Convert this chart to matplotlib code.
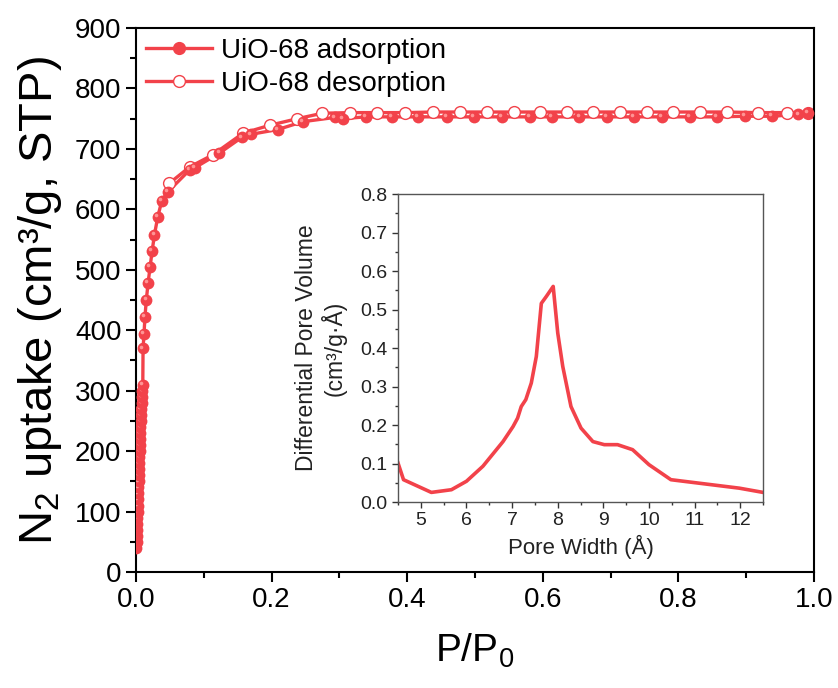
import numpy as np
import matplotlib.pyplot as plt
import matplotlib.transforms as mtransforms

plt.rcParams['font.family'] = ['Liberation Sans', 'DejaVu Sans']
plt.rcParams['mathtext.fontset'] = 'custom'
plt.rcParams['mathtext.rm'] = 'Liberation Sans'

red = '#F2424A'

# N2 isotherm (adsorption)
ads_p = [0.0004, 0.0008, 0.0011, 0.0014, 0.0017, 0.0020, 0.0023, 0.0026, 0.0029,
         0.0032, 0.0035, 0.0038, 0.0041, 0.0044, 0.0047, 0.0050, 0.0053, 0.0056,
         0.0059, 0.0062, 0.0066, 0.0070, 0.0074, 0.0078, 0.0083, 0.0088, 0.0094,
         0.0100, 0.0104, 0.0118, 0.0132, 0.0152, 0.0178, 0.0208, 0.0238, 0.0272,
         0.0320, 0.0380, 0.0470, 0.0790, 0.0870, 0.1230, 0.1560, 0.1690, 0.2090,
         0.2460, 0.2930, 0.3050, 0.3390, 0.3770, 0.4160, 0.4590, 0.4990, 0.5400,
         0.5810, 0.6140, 0.6540, 0.6950, 0.7350, 0.7760, 0.8170, 0.8570, 0.8980,
         0.9380, 0.9770, 0.9910]
ads_v = [40, 50, 60, 70, 80, 90, 100, 110, 120, 130, 140, 150, 160, 170, 180, 190,
         200, 210, 220, 230, 240, 250, 260, 270, 280, 290, 300, 310, 370, 394, 422,
         450, 478, 505, 531, 558, 587, 614, 629, 665, 669, 693, 719, 724, 732, 745,
         752, 750, 753, 753, 753, 753, 753, 753, 753, 753, 753, 753, 753, 753, 753,
         753, 754, 754, 757, 760]

# desorption
des_p = [0.9910, 0.9600, 0.9170, 0.8720, 0.8320, 0.7920, 0.7540, 0.7140, 0.6740,
         0.6360, 0.5960, 0.5580, 0.5180, 0.4780, 0.4380, 0.3970, 0.3560, 0.3160,
         0.2750, 0.2380, 0.1970, 0.1580, 0.1130, 0.0790, 0.0490]
des_v = [760, 760, 760, 761, 761, 761, 761, 761, 761, 761, 761, 761, 761, 761, 761,
         760, 760, 760, 759, 750, 739, 726, 690, 670, 643]

# pore size distribution (inset)
pore_w = [4.50, 4.62, 5.23, 5.67, 6.00, 6.36, 6.80, 7.02, 7.12, 7.20, 7.30, 7.42,
          7.53, 7.64, 7.75, 7.90, 8.00, 8.11, 8.29, 8.51, 8.77, 9.02, 9.31, 9.64,
          10.00, 10.48, 11.98, 12.50]
pore_v = [0.101, 0.058, 0.025, 0.032, 0.054, 0.093, 0.157, 0.196, 0.218, 0.248,
          0.266, 0.309, 0.378, 0.516, 0.534, 0.560, 0.439, 0.352, 0.248, 0.192,
          0.157, 0.149, 0.149, 0.136, 0.097, 0.058, 0.036, 0.025]

fig = plt.figure(figsize=(8.38, 6.88), dpi=100)
ax = fig.add_axes([0.1623, 0.1686, 0.809, 0.7907])

ax.plot(ads_p, ads_v, '-', color=red, lw=2.4, zorder=2)
ax.plot(des_p, des_v, '-o', color=red, lw=2.4, ms=8.5, mfc='white', mec=red,
        mew=1.0, zorder=2)
# filled balls one by one, each with a small highlight, so later ones cover earlier ones
hl = ax.transData + mtransforms.ScaledTranslation(-1.3 / 72, 1.3 / 72, fig.dpi_scale_trans)
for i, (p, v) in enumerate(zip(ads_p, ads_v)):
    ax.plot(p, v, 'o', color=red, ms=8.5, mew=0, zorder=3 + 2 * i / 1000)
    ax.plot(p, v, 'o', color='#FF9494', ms=2.6, mew=0, transform=hl,
            zorder=3 + (2 * i + 1) / 1000)

# legend handles
ax.plot([], [], '-o', color=red, lw=2.4, ms=8.5, label='UiO-68 adsorption')
ax.plot([], [], '-o', color=red, lw=2.4, ms=8.5, mfc='white', mec=red, mew=1.0,
        label='UiO-68 desorption')

ax.set_xlim(0, 1.0)
ax.set_ylim(0, 900)
ax.set_xticks(np.arange(0, 1.01, 0.2))
ax.set_xticks(np.arange(0.1, 1.0, 0.2), minor=True)
ax.set_yticks(np.arange(0, 901, 100))
ax.set_yticks(np.arange(50, 900, 100), minor=True)
ax.xaxis.set_major_formatter(plt.FuncFormatter(lambda v, p: f'{v:.1f}'))
ax.tick_params(which='major', direction='out', length=7, width=1.5, labelsize=20)
ax.tick_params(which='minor', direction='out', length=4, width=1.5)
for s in ax.spines.values():
    s.set_linewidth(1.5)
ax.set_xlabel('P/P$_0$', fontsize=28, labelpad=14)
ax.set_ylabel('N$_2$ uptake (cm³/g, STP)', fontsize=34, labelpad=8)

leg = ax.legend(loc='upper left', frameon=False, fontsize=20, handlelength=2.4,
                handletextpad=0.3, labelspacing=0.25, borderaxespad=0.2,
                borderpad=0.15)

# inset
ins = fig.add_axes([0.475, 0.2703, 0.4356, 0.4477])
ins.plot(pore_w, pore_v, '-', color=red, lw=2.6)
ins.set_xlim(4.5, 12.5)
ins.set_ylim(0, 0.8)
ins.set_xticks(np.arange(5, 12.1, 1))
ins.set_xticks(np.arange(4.5, 12.6, 0.5), minor=True)
ins.set_yticks(np.arange(0, 0.81, 0.1))
ins.set_yticks(np.arange(0.05, 0.8, 0.1), minor=True)
ins.yaxis.set_major_formatter(plt.FuncFormatter(lambda v, p: f'{v:.1f}'))
ins.tick_params(which='major', direction='out', length=4, width=1, labelsize=14,
                colors='#333333', labelcolor='#222222')
ins.tick_params(which='minor', direction='out', length=2.5, width=1, colors='#333333')
for s in ins.spines.values():
    s.set_color('#555555')
    s.set_linewidth(1.0)
ins.set_xlabel('Pore Width (Å)', fontsize=16, color='#222222', labelpad=4)
ins.set_ylabel('Differential Pore Volume\n(cm³/g·Å)', fontsize=16.5,
               color='#222222', labelpad=10, linespacing=1.1)

fig.savefig('out.png', dpi=100)
